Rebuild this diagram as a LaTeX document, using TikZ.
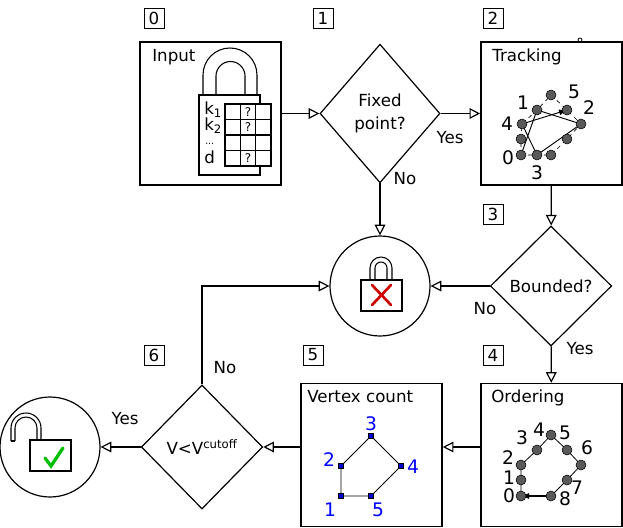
\documentclass[tikz,border=0pt]{standalone}
\usepackage{fontspec}
\setmainfont{DejaVu Sans}
\usetikzlibrary{arrows.meta,shapes.geometric}
\begin{document}
\begin{tikzpicture}[x=0.75pt,y=-0.75pt,font=\fontsize{12.5}{15}\selectfont,
  box/.style={draw,line width=1.2pt,minimum width=105.75pt,minimum height=107pt,inner sep=0},
  dia/.style={draw,line width=0.9pt,diamond,inner sep=0,aspect=0.9},
  res/.style={draw,line width=0.9pt,circle,minimum size=75pt,inner sep=0},
  numbox/.style={draw,line width=0.6pt,minimum size=15pt,inner sep=0},
  arr/.style={line width=0.9pt,-{Triangle[open,length=8pt,width=8pt]}},
  big/.style={inner sep=0,font=\fontsize{14}{16}\selectfont},
  dot/.style={circle,draw=black,fill=black!65,minimum size=7.5pt,inner sep=0},
  sq/.style={draw=black,fill=blue!80!black,minimum size=4pt,inner sep=0}]
\useasboundingbox (0,0) rectangle (623,527);
% number boxes
\node[numbox] (n0) at (154,18) {0};
\node[numbox] (n1) at (323,18) {1};
\node[numbox] (n2) at (493,18) {2};
\node[numbox] (n3) at (493,214) {3};
\node[numbox] (n4) at (493,355) {4};
\node[numbox] (n5) at (313,355) {5};
\node[numbox] (n6) at (154,355) {6};
% main nodes
\node[box] (inp) at (210.5,113.5) {};
\node[dia,minimum width=90pt,minimum height=104pt] (fp) at (380,113.5) {\parbox{60pt}{\centering Fixed\\[2pt] point?}};
\node[box] (trk) at (551.5,113.5) {};
\node[dia,minimum width=91pt,minimum height=90pt] (bd) at (551,286) {Bounded?};
\node[res] (lock) at (380,286) {};
\node[box] (ord) at (551.5,455) {};
\node[box] (vc) at (371.5,455) {};
\node[dia,minimum width=91pt,minimum height=93pt] (vv) at (202,447) {V<V\textsuperscript{cutoff}};
\node[res] (unl) at (50,447) {};
\node[anchor=north west,inner sep=0] (tin) at (152,49) {Input};
\node[anchor=north west,inner sep=0] (ttr) at (492,49) {Tracking};
\node[anchor=north west,inner sep=0] (tor) at (491,390) {Ordering};
\node[anchor=north west,inner sep=0] (tvc) at (307,390) {Vertex count};
\draw[line width=0.6pt] (580,40) circle (2);
% connectors
\draw[arr] (inp) -- (fp);
\draw[arr] (fp) -- (trk);
\draw[arr] (fp) -- (lock);
\draw[arr] (trk) -- (bd);
\draw[arr] (bd) -- (lock);
\draw[arr] (bd) -- (ord);
\draw[arr] (ord.west |- vv) -- (vc.east |- vv);
\draw[arr] (vc.west |- vv) -- (vv);
\draw[arr] (vv) -- (unl);
\draw[arr] (vv.north) |- (lock.west);
\node (y1) at (450,138) {Yes};
\node (no1) at (405,179) {No};
\node (no2) at (485,309) {No};
\node (y2) at (580,349) {Yes};
\node (y3) at (125,419) {Yes};
\node (no3) at (225,368) {No};
% input padlock
\begin{scope}[line width=0.8pt]
\draw (203,95) -- (203,75) arc[start angle=180,end angle=360,radius=27] -- (257,95);
\draw (216,95) -- (216,76) arc[start angle=180,end angle=360,radius=14.5] -- (245,95);
\draw[fill=white] (199,95) rectangle (260,175);
\draw[fill=white] (225,104) rectangle (271,166);
\foreach \x in {240.3,255.7} \draw (\x,104) -- (\x,166);
\foreach \y in {119.5,135,150.5} \draw (225,\y) -- (271,\y);
\end{scope}
\node[font=\small,inner sep=0] (q1) at (248,112) {?};
\node[font=\small,inner sep=0] (q2) at (248,127) {?};
\node[font=\small,inner sep=0] (q4) at (248,158) {?};
\node[inner sep=0,anchor=west] (k1) at (204,110) {k\textsubscript{1}};
\node[inner sep=0,anchor=west] (k2) at (204,126) {k\textsubscript{2}};
\node[inner sep=0,anchor=west,font=\scriptsize] (kd) at (205,144) {...};
\node[inner sep=0,anchor=west] (d) at (204,157) {d};
% locked padlock
\begin{scope}[line width=0.8pt]
\draw (370,280) -- (370,268) arc[start angle=180,end angle=360,radius=11] -- (392,280);
\draw (375,280) -- (375,268) arc[start angle=180,end angle=360,radius=6] -- (387,280);
\draw[fill=white] (361,280) rectangle (402,311);
\draw[red!80!black,line width=2pt,line cap=round] (372,285) -- (391,305) (391,285) -- (372,305);
\end{scope}
% unlocked padlock
\begin{scope}[line width=0.8pt]
\draw (11,441) -- (11,428) arc[start angle=180,end angle=360,radius=15] -- (41,440);
\draw (15,441) -- (15,428) arc[start angle=180,end angle=360,radius=11] -- (37,440);
\draw (11,441) -- (15,441);
\draw[fill=white] (30,440) rectangle (71,471);
\draw[green!75!black,line width=2.4pt,line cap=round] (45,458) -- (51,466) -- (63,448);
\end{scope}
% tracking
\coordinate (t0) at (521,155); \coordinate (ta) at (521,139); \coordinate (t4) at (522,124);
\coordinate (t1) at (537,110); \coordinate (tt) at (551,95); \coordinate (t5) at (567,110);
\coordinate (t2) at (581,124); \coordinate (tb) at (567,139); \coordinate (tc) at (551,155);
\coordinate (t3) at (537,155);
\draw[dashed,line width=0.5pt] (t0)--(ta)--(t4)--(t1)--(tt)--(t5)--(t2)--(tb)--(tc)--(t3)--cycle;
\draw[line width=0.7pt] (t0)--(t1)--(t2)--(t3)--(t4);
\draw[line width=0.7pt,-{Latex[length=6pt]}] (t4)--(t5);
\foreach \p in {t0,ta,t4,t1,tt,t5,t2,tb,tc,t3} \node[dot] at (\p) {};
\node[big] (l0) at (508,158) {0};
\node[big] (l4) at (507,124) {4};
\node[big] (l1) at (523,103) {1};
\node[big] (l5) at (574,92) {5};
\node[big] (l2) at (589,108) {2};
\node[big] (l3) at (537,173) {3};
% ordering
\coordinate (o0) at (521,496); \coordinate (o1) at (521,480); \coordinate (o2) at (521,465);
\coordinate (o3) at (537,450); \coordinate (o4) at (551,435); \coordinate (o5) at (567,450);
\coordinate (o6) at (581,465); \coordinate (o7) at (567,480); \coordinate (o8) at (551,496);
\draw[line width=0.6pt] (o0)--(o1)--(o2)--(o3)--(o4)--(o5)--(o6)--(o7)--(o8);
\draw[line width=0.8pt,-{Latex[length=6pt]}] (o8)--(o0);
\foreach \p in {o0,o1,o2,o3,o4,o5,o6,o7,o8} \node[dot] at (\p) {};
\foreach \p/\t/\dx/\dy in {o0/0/-12/0,o1/1/-12/-2,o2/2/-13/-7,o3/3/-15/-12,o4/4/-12/-5,o5/5/-2/-17,o6/6/6/-17,o7/7/10/8,o8/8/14/3}
  \node[big] at ([shift={(\dx,\dy)}]\p) {\t};
% vertex count
\coordinate (v1) at (341,496); \coordinate (v2) at (341,466); \coordinate (v3) at (371,436);
\coordinate (v4) at (401,466); \coordinate (v5) at (371,496);
\draw[line width=0.7pt] (v1)--(v2)--(v3)--(v4)--(v5)--cycle;
\foreach \p in {v1,v2,v3,v4,v5} \node[sq] at (\p) {};
\node[big,text=blue] (b1) at (330,510) {1};
\node[big,text=blue] (b2) at (329,460) {2};
\node[big,text=blue] (b3) at (371,424) {3};
\node[big,text=blue] (b4) at (413,467) {4};
\node[big,text=blue] (b5) at (378,510) {5};
\end{tikzpicture}
\end{document}
